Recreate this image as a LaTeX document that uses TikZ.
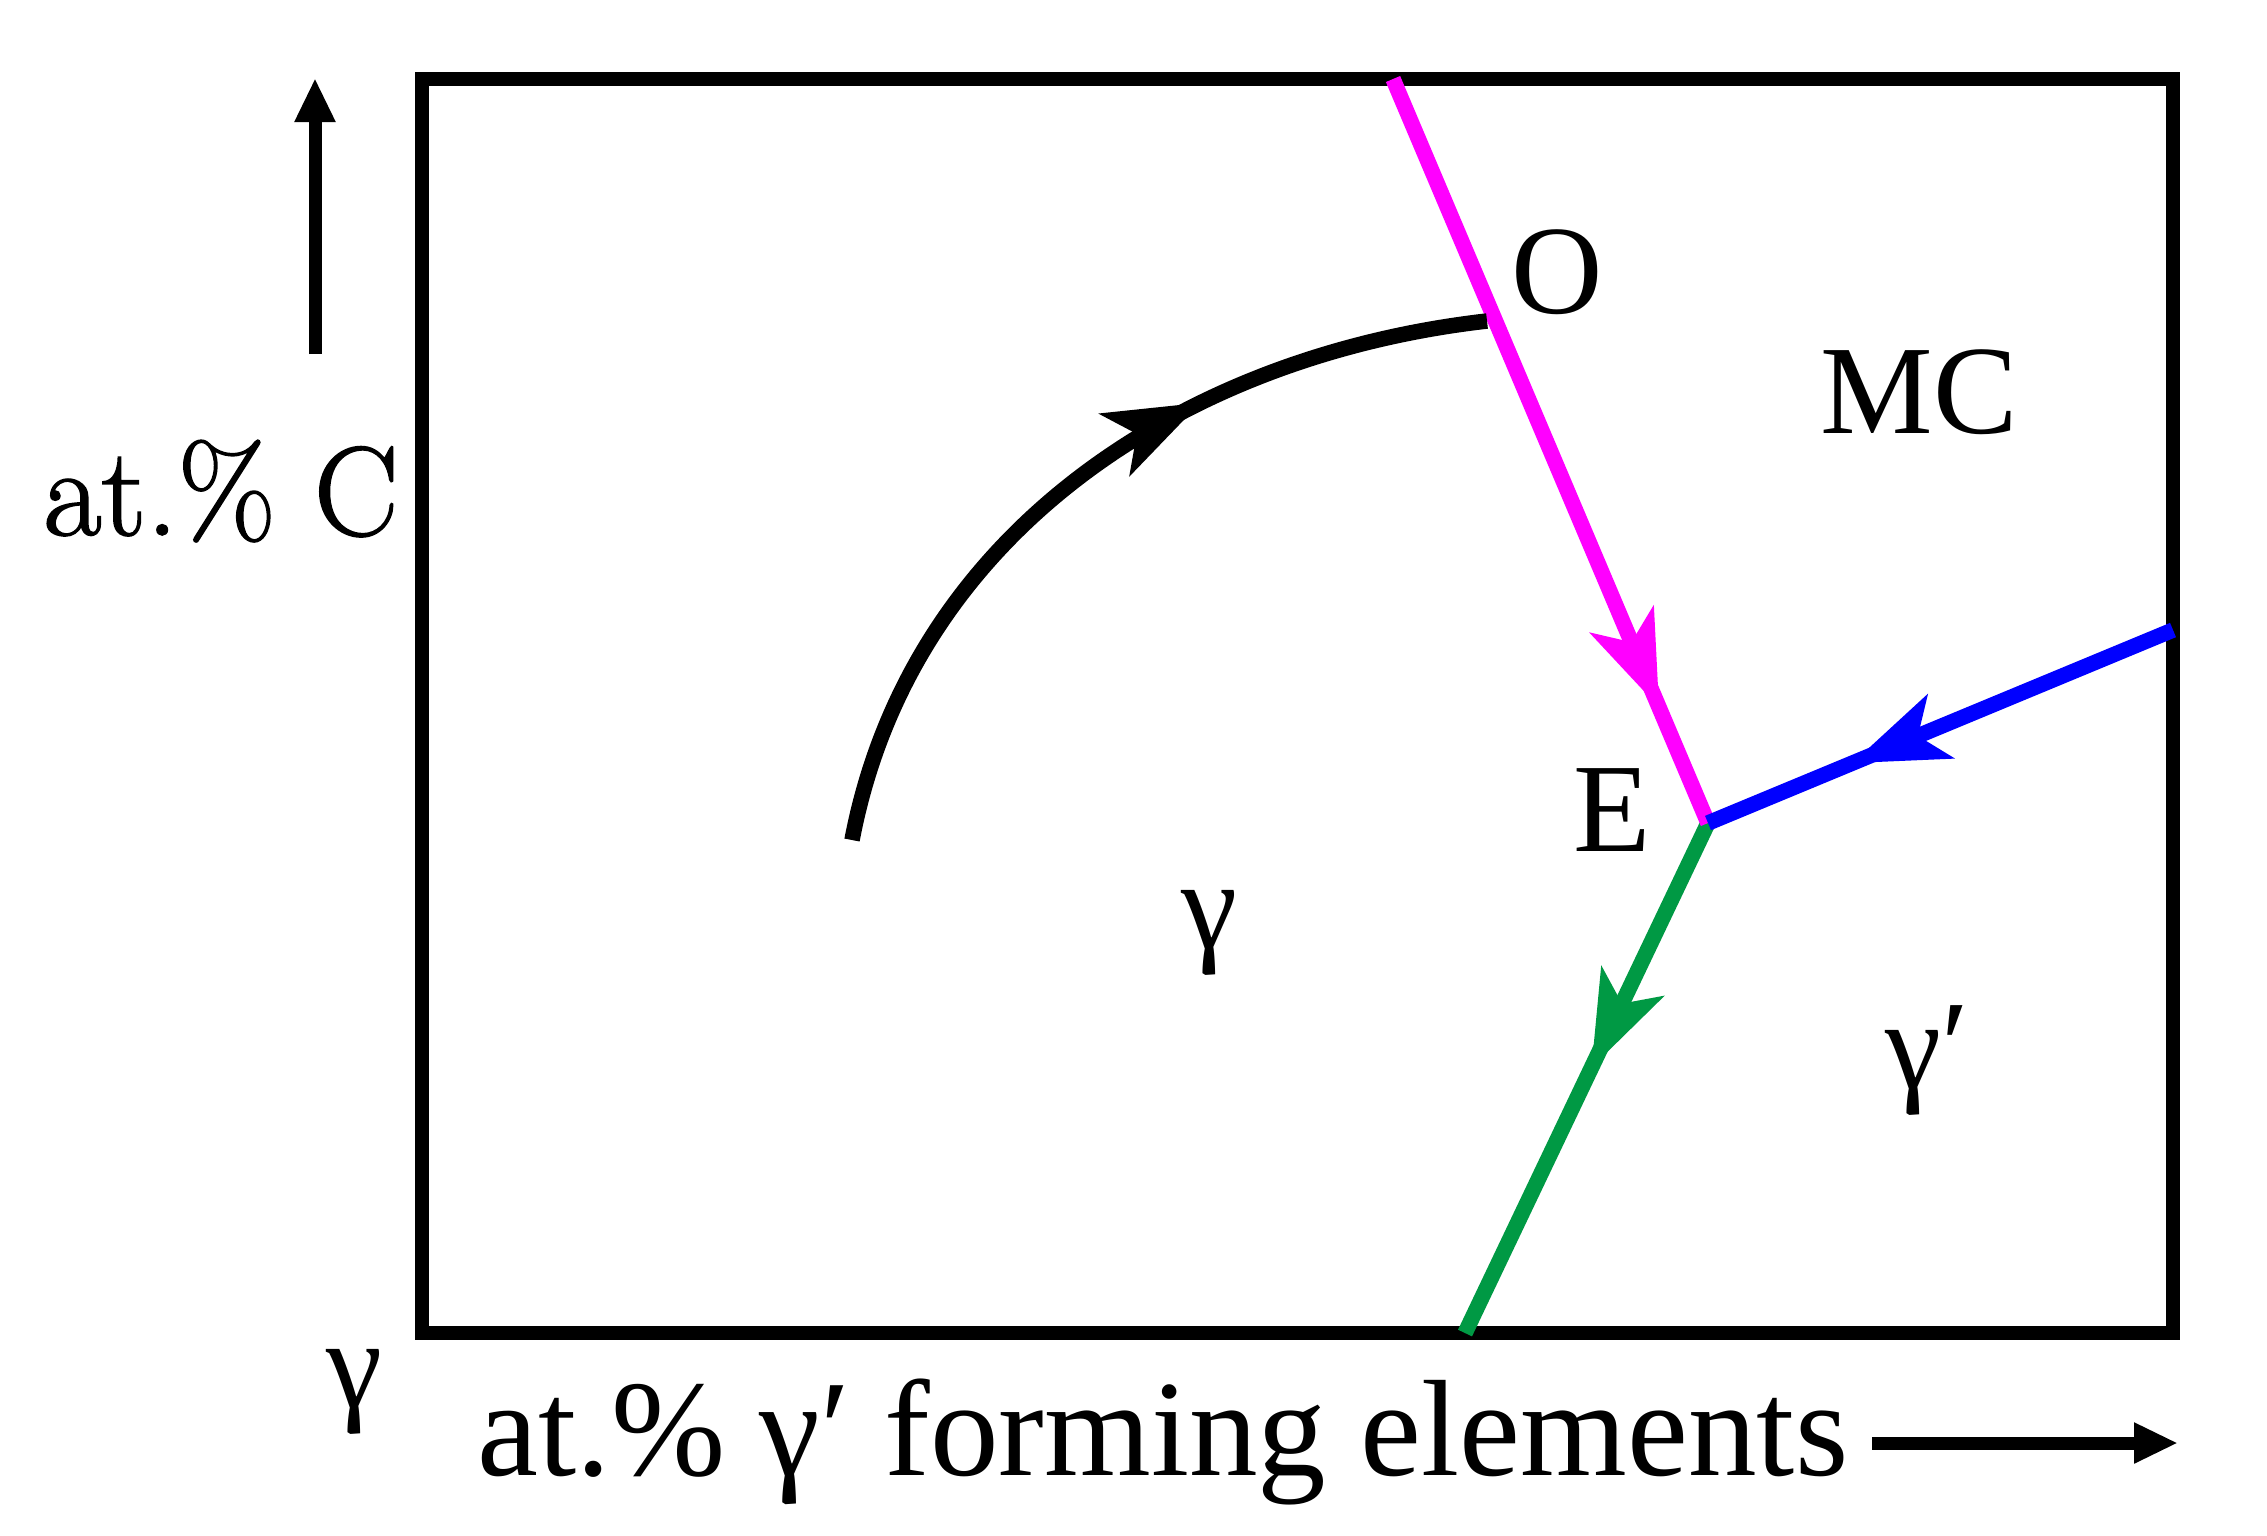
\documentclass[tikz,border=0pt]{standalone}
\usepackage{fontspec}
\setmainfont{Liberation Serif}
\newfontfamily\lmfont[FakeBold=1.3]{Latin Modern Roman}
\usetikzlibrary{arrows.meta,decorations.markings}
\definecolor{mag}{RGB}{255,0,255}
\definecolor{blu}{RGB}{0,0,255}
\definecolor{grn}{RGB}{0,153,68}
\begin{document}
\begin{tikzpicture}[x=0.01cm,y=-0.01cm,
  ln/.style={line width=0.155cm},
  midarrow/.style={postaction={decorate},decoration={markings,mark=at position #1 with {\arrow{Stealth[length=0.95cm,width=0.68cm,inset=0.24cm]}}}},
  axarrow/.style={line width=0.13cm,-{Triangle[length=0.44cm,width=0.38cm]}},
  lbl/.style={inner sep=0pt,font=\fontsize{36}{40}\selectfont}]
\useasboundingbox (0,0) rectangle (2267,1535);
\fill[white] (0,0) rectangle (2267,1535);
% frame
\draw[line width=0.14cm,line join=miter] (422,79) rectangle (2173,1333);
% points
\coordinate (Otop) at (1393,79);
\coordinate (Ept) at (1708,823);
\coordinate (Bend) at (2173,630);
\coordinate (Gend) at (1465,1333);
\coordinate (Astart) at (852,840);
\coordinate (Aend) at (1487,321);
% phase boundaries
\draw[ln,color=grn,midarrow=0.48] (Ept) -- (Gend);
\draw[ln,color=mag,midarrow=0.845] (Otop) -- (Ept);
\draw[ln,color=blu,midarrow=0.69] (Bend) -- (Ept);
% solidification path
\draw[ln,midarrow=0.66] (Astart) .. controls (910,536) and (1180,356) .. (Aend);
% axes arrows
\coordinate (ya0) at (315,354);
\coordinate (ya1) at (315,78);
\draw[axarrow] (ya0) -- (ya1);
\coordinate (xa0) at (1872,1443);
\coordinate (xa1) at (2178,1443);
\draw[axarrow] (xa0) -- (xa1);
% labels
\node[inner sep=0pt,anchor=base,font=\lmfont\fontsize{36}{40}\selectfont] (ylab) at (221,535) {at.\% C};
\node[inner sep=0pt,anchor=base,font=\fontsize{39}{44}\selectfont] (xlab) at (1163,1475) {at.\% γ′ forming elements};
\node[lbl] (g0) at (354,1392) {γ};
\node[lbl] (lO) at (1557,272) {O};
\node[lbl] (lMC) at (1919,392) {MC};
\node[lbl] (lE) at (1612,810) {E};
\node[lbl] (lg) at (1209,933) {γ};
\node[lbl] (lgp) at (1927,1060) {γ′};
\end{tikzpicture}
\end{document}
